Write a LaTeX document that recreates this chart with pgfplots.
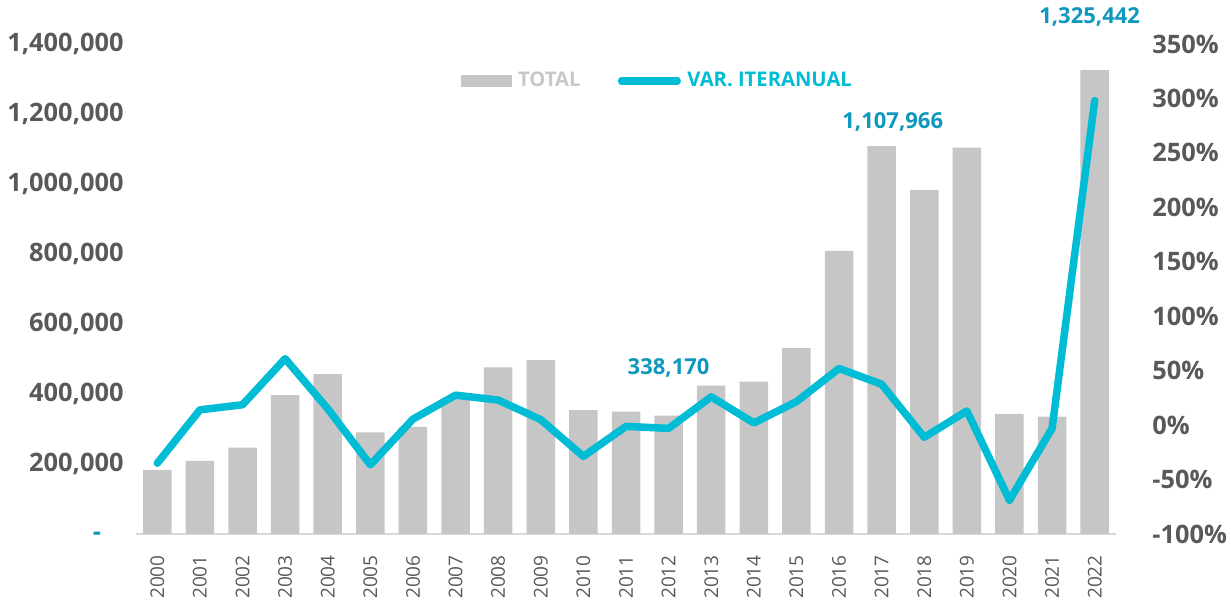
\documentclass[border=0pt]{standalone}
\usepackage{fontspec}
\setmainfont{Open Sans}
\usepackage{pgfplots}
\usepackage{pgfplotstable}
\pgfplotsset{compat=1.18}
\definecolor{barc}{RGB}{198,198,198}
\definecolor{linec}{RGB}{0,188,212}
\definecolor{labc}{RGB}{14,152,190}
\definecolor{tickc}{RGB}{89,89,89}
\definecolor{axc}{RGB}{217,217,217}
\definecolor{legc}{RGB}{200,200,200}

\pgfplotstableread{
x total var
0 183000 -35
1 208600 14
2 246600 18.7
3 397000 61
4 457000 15
5 290500 -36.5
6 305700 5.5
7 389000 27.5
8 476000 23
9 497000 5
10 354000 -28.7
11 349500 -1.2
12 338170 -3
13 423800 26
14 435000 2
15 531000 21.5
16 808600 52
17 1107966 37.5
18 983000 -11.2
19 1104000 13
20 343000 -69
21 335000 -3
22 1325442 298
}\data

\begin{document}
\begin{tikzpicture}
\path[use as bounding box] (-68pt,-34.5pt) rectangle (547.5pt,267pt);
\begin{axis}[
  at={(0,0)}, anchor=south west,
  width=490pt, height=245pt, scale only axis,
  xmin=-0.5, xmax=22.5, ymin=0, ymax=1400000,
  scaled y ticks=false,
  axis y line*=left, axis x line*=bottom,
  y axis line style={draw=none},
  x axis line style={draw=axc, line width=1pt, -},
  major tick length=0pt,
  xtick={0,...,22},
  xticklabels={2000,2001,2002,2003,2004,2005,2006,2007,2008,2009,2010,2011,2012,2013,2014,2015,2016,2017,2018,2019,2020,2021,2022},
  xticklabel style={rotate=90, anchor=east, font=\fontsize{9.5}{10}\selectfont, text=tickc, inner sep=0pt},
  xticklabel shift=10.5pt,
  ytick={200000,400000,600000,800000,1000000,1200000,1400000},
  yticklabels={{200,000},{400,000},{600,000},{800,000},{1,000,000},{1,200,000},{1,400,000}},
  yticklabel style={anchor=east, font=\bfseries\fontsize{12.7}{13}\selectfont, text=tickc, inner sep=0pt},
  yticklabel shift=6pt,
  ybar, bar width=14.25pt,
  clip=false,
]
\addplot[fill=barc, draw=none] table[x=x,y=total]{\data};
\node[font=\bfseries\fontsize{11}{12}\selectfont, text=labc] at (axis cs:12,475000) {338,170};
\node[font=\bfseries\fontsize{11}{12}\selectfont, text=labc] at (axis cs:17.26,1177000) {1,107,966};
\node[font=\bfseries\fontsize{11}{12}\selectfont, text=labc] at (axis cs:21.88,1477000) {1,325,442};
\node[font=\bfseries\fontsize{12.7}{13}\selectfont, text=labc, inner sep=0pt] at (axis cs:-0.5,0) [xshift=-19.5pt, yshift=-1pt] {-};
\end{axis}
\begin{axis}[
  at={(0,0)}, anchor=south west,
  width=490pt, height=245pt, scale only axis,
  xmin=-0.5, xmax=22.5, ymin=-100, ymax=350,
  axis y line*=right, axis x line=none,
  y axis line style={draw=none},
  major tick length=0pt,
  ytick={-100,-50,0,50,100,150,200,250,300,350},
  yticklabels={-100\%,-50\%,0\%,50\%,100\%,150\%,200\%,250\%,300\%,350\%},
  yticklabel style={anchor=west, font=\bfseries\fontsize{12.7}{13}\selectfont, text=tickc, inner sep=0pt},
  yticklabel shift=18pt,
  clip=false,
  legend columns=2,
  legend style={draw=none, fill=none, inner sep=0pt, outer sep=0pt,
    at={(0.3316,0.9245)}, anchor=west,
    font=\bfseries\fontsize{10.1}{11}\selectfont,
    nodes={inner sep=0pt},
    /tikz/every odd column/.append style={column sep=3.2pt},
    /tikz/every even column/.append style={column sep=18.5pt}},
]
\addlegendimage{legend image code/.code={\fill[barc] (0pt,-2.75pt) rectangle (25pt,2.75pt);}}
\addlegendentry{\textcolor{legc}{TOTAL}}
\addplot[linec, line width=3.75pt, line cap=round, line join=round,
  legend image code/.code={\path (0pt,0pt) rectangle (28pt,0.1pt); \draw[linec, line width=3.75pt, line cap=round] (1.9pt,0pt) -- (26.1pt,0pt);}]
  table[x=x,y=var]{\data};
\addlegendentry{\textcolor{linec}{VAR. ITERANUAL}}
\end{axis}
\end{tikzpicture}
\end{document}
